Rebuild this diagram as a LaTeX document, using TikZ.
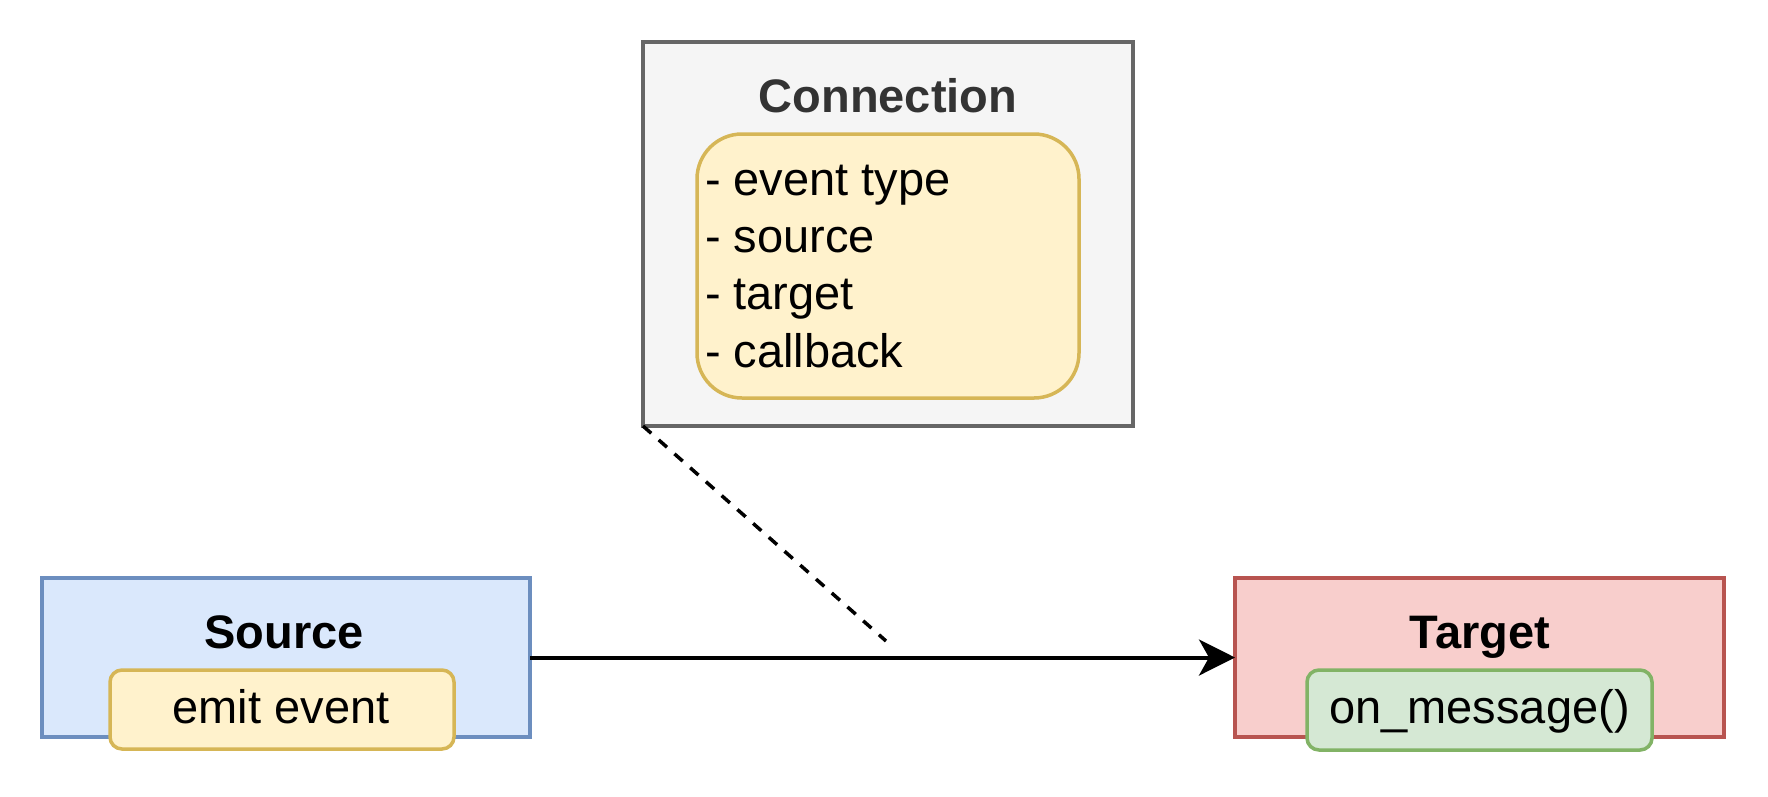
\documentclass[tikz,border=0pt]{standalone}
\usepackage{fontspec}
\setmainfont{Liberation Sans}
\usetikzlibrary{arrows.meta}
\definecolor{grayfill}{HTML}{F5F5F5}
\definecolor{graystroke}{HTML}{666666}
\definecolor{graytext}{HTML}{333333}
\definecolor{yelfill}{HTML}{FFF2CC}
\definecolor{yelstroke}{HTML}{D6B656}
\definecolor{bluefill}{HTML}{DAE8FC}
\definecolor{bluestroke}{HTML}{6C8EBF}
\definecolor{redfill}{HTML}{F8CECC}
\definecolor{redstroke}{HTML}{B85450}
\definecolor{grnfill}{HTML}{D5E8D4}
\definecolor{grnstroke}{HTML}{82B366}
\tikzset{
  box/.style={draw, line width=3.5pt, rectangle, inner sep=0pt, outer sep=0pt},
  pill/.style={draw, line width=3.5pt, rectangle, rounded corners=12pt, inner sep=0pt, outer sep=0pt},
  txt/.style={font=\fontsize{47}{57.33}\selectfont, inner sep=0pt, outer sep=0pt},
  btxt/.style={font=\fontsize{47}{57}\selectfont\bfseries, inner sep=0pt, outer sep=0pt},
  conn/.style={line width=4pt, -{Stealth[length=36pt,width=36pt,inset=10pt]}},
  dashconn/.style={line width=3.5pt, dash pattern=on 11pt off 10pt}
}
\begin{document}
\begin{tikzpicture}[x=1pt,y=-1pt]
\useasboundingbox[fill=white] (0,0) rectangle (1768,796);
% Connection
\node[box, fill=grayfill, draw=graystroke, minimum width=490pt, minimum height=384pt] (conn) at (888,234) {};
\node[btxt, text=graytext, anchor=base] (conntitle) at (888,112) {Connection};
\node[pill, rounded corners=45pt, fill=yelfill, draw=yelstroke, minimum width=382pt, minimum height=264pt] (fields) at (888,266) {};
\node[txt, anchor=base west, align=left] (fieldtext) at (705,367) {- event type\\- source\\- target\\- callback};
% Source
\node[box, fill=bluefill, draw=bluestroke, minimum width=488pt, minimum height=159pt] (source) at (286,657.5) {};
\node[btxt, anchor=base] (sourcetitle) at (284,648) {Source};
\node[pill, fill=yelfill, draw=yelstroke, minimum width=344pt, minimum height=79pt] (emit) at (282,709.5) {};
\node[txt, anchor=base] (emittext) at (281,723) {emit event};
% Target
\node[box, fill=redfill, draw=redstroke, minimum width=489pt, minimum height=159pt] (target) at (1479.5,657.5) {};
\node[btxt, anchor=base] (targettitle) at (1480,648) {Target};
\node[pill, fill=grnfill, draw=grnstroke, minimum width=345pt, minimum height=80pt] (onmsg) at (1479.5,710) {};
\node[txt, anchor=base] (onmsgtext) at (1479.5,723) {on\_message()};
% connectors
\coordinate (dashend) at (886,641);
\draw[conn] (source.east) -- (target.west);
\draw[dashconn] (conn.south west) -- (dashend);
\end{tikzpicture}
\end{document}
